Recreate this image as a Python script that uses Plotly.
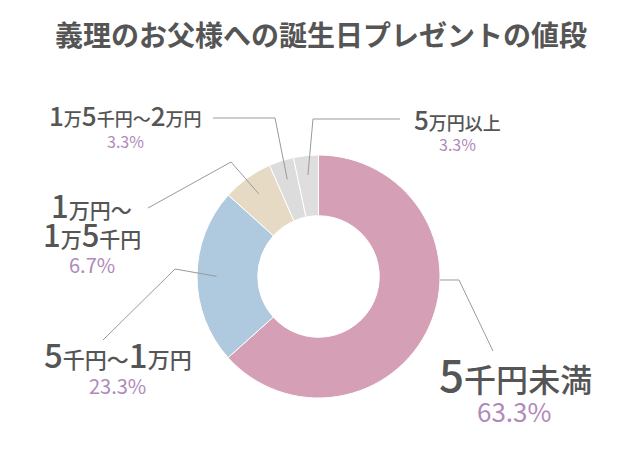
import math
import plotly.graph_objects as go

# ---------------- data ----------------
title_text = "義理のお父様への誕生日プレゼントの値段"
categories = ["5千円未満", "5千円〜1万円", "1万円〜1万5千円", "1万5千円〜2万円", "5万円以上"]
values = [63.3, 23.3, 6.7, 3.3, 3.3]

# ---------------- styles / layout ----------------
W, H = 640, 451
OFF = 8  # browser default body margin, compensated so the page matches the target pixels
colors = ["#D5A0B6", "#AFC9DF", "#E7DAC4", "#DCDCDC", "#DEDEDE"]
text_color = "#555555"
pct_color = "#B08ABA"
line_color = "#9A9A9A"
FONT = "Noto Sans CJK JP"

cx, cy, R = 318.5, 276.5, 121.5  # pixel geometry of the donut
hole = 0.5

# label styling: (digit size, other size, pct size)
label_sizes = [(44, 32, 26), (33, 22, 20), (31, 21, 20), (26, 18, 16), (26, 18, 16)]
# label centres in px: category line(s) and percentage line
label_pos = [
    [(515, 373)],
    [(118, 354)],
    [(91, 205), (92, 233)],
    [(125, 114)],
    [(457, 119)],
]
pct_pos = [(514, 410), (117, 385), (92, 264), (125, 141), (457, 144)]
# leader line elbows / ends (px)
leader = [
    [(459, 280), (493, 351)],
    [(175, 269), (103, 340)],
    [(231, 162), (148, 208)],
    [(275, 118), (213, 118)],
    [(313, 119), (400, 119)],
]


def px(x):
    return (x - OFF) / W


def py(y):
    return 1 - (y - OFF) / H


def rich(s, big, small):
    out = []
    for ch in s:
        size = big if ch.isdigit() else small
        out.append(f'<span style="font-size:{size}px">{ch}</span>')
    return "".join(out)


fig = go.Figure(
    go.Pie(
        labels=categories,
        values=values,
        sort=False,
        direction="clockwise",
        rotation=0,
        hole=hole,
        marker=dict(colors=colors, line=dict(color="white", width=1)),
        textinfo="none",
        hoverinfo="label+percent",
        showlegend=False,
        domain=dict(x=[px(cx - R), px(cx + R)], y=[py(cy + R), py(cy - R)]),
    )
)

annotations = [
    dict(
        text=f"<b>{title_text}</b>",
        x=px(321), y=py(34), xref="paper", yref="paper",
        xanchor="center", yanchor="middle", showarrow=False,
        font=dict(family=FONT, size=28, color=text_color),
    )
]

total = sum(values)
shapes = []
cum = 0.0
for i, (cat, v) in enumerate(zip(categories, values)):
    big, small, psz = label_sizes[i]
    lines = [cat] if len(label_pos[i]) == 1 else [cat.split("〜")[0] + "〜", cat.split("〜")[1]]
    for ln, (lx, ly) in zip(lines, label_pos[i]):
        annotations.append(dict(
            text=rich(ln, big, small), x=px(lx), y=py(ly), xref="paper", yref="paper",
            xanchor="center", yanchor="middle", showarrow=False,
            font=dict(family=FONT, size=small, color=text_color, weight=500),
        ))
    annotations.append(dict(
        text=f"{v:.1f}%", x=px(pct_pos[i][0]), y=py(pct_pos[i][1]), xref="paper", yref="paper",
        xanchor="center", yanchor="middle", showarrow=False,
        font=dict(family=FONT, size=psz, color=pct_color),
    ))

    # leader line anchor from slice geometry
    mid = (cum + v / 2) / total * 360.0
    cum += v
    if i == 0:
        ey = leader[i][0][1]
        ax = cx + math.sqrt(R * R - (ey - cy) ** 2)
        ay = ey
    else:
        r = 0.84 * R
        ax = cx + r * math.sin(math.radians(mid))
        ay = cy - r * math.cos(math.radians(mid))
    pts = [(ax, ay)] + leader[i]
    path = "M " + " L ".join(f"{px(x):.5f},{py(y):.5f}" for x, y in pts)
    shapes.append(dict(type="path", path=path, xref="paper", yref="paper",
                       line=dict(color=line_color, width=1), layer="above"))

fig.update_layout(
    width=W, height=H,
    margin=dict(l=0, r=0, t=0, b=0),
    paper_bgcolor="white", plot_bgcolor="white",
    annotations=annotations, shapes=shapes,
    font=dict(family=FONT),
)

fig.write_html("out.html")
